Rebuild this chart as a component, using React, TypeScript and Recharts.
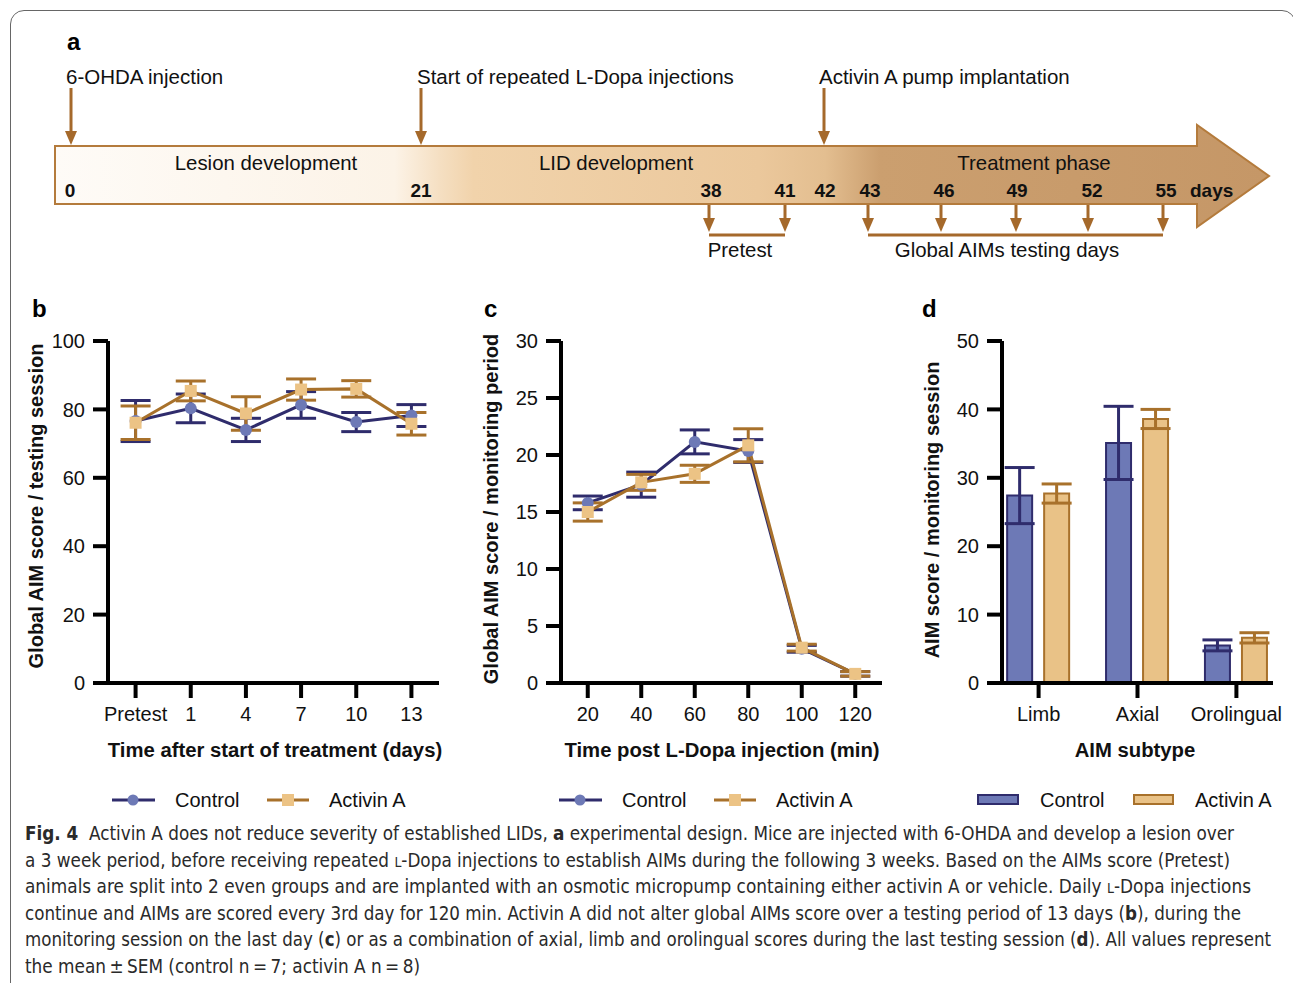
import React, { useLayoutEffect, useRef } from 'react';
import { LineChart, Line, BarChart, Bar, XAxis, YAxis, ErrorBar } from 'recharts';

// panel b: global AIM score per testing session (mean, SEM)
const sessionLabels = ['Pretest', '1', '4', '7', '10', '13'];
const sessionControl = [76.6, 80.3, 74.0, 81.3, 76.3, 78.2];
const sessionControlSem = [6.0, 4.2, 3.4, 3.9, 2.8, 3.2];
const sessionActivin = [76.1, 85.4, 78.8, 85.8, 86.0, 75.8];
const sessionActivinSem = [4.9, 2.9, 4.9, 3.1, 2.4, 3.3];

// panel c: global AIM score over the monitoring period
const minutes = [20, 40, 60, 80, 100, 120];
const minuteControl = [15.8, 17.4, 21.15, 20.35, 3.0, 0.8];
const minuteControlSem = [0.6, 1.1, 1.05, 1.0, 0.3, 0.2];
const minuteActivin = [15.0, 17.6, 18.35, 20.85, 3.1, 0.8];
const minuteActivinSem = [0.8, 0.7, 0.75, 1.45, 0.3, 0.2];

// panel d: AIM subtypes
const subtypes = ['Limb', 'Axial', 'Orolingual'];
const subtypeControl = [27.4, 35.1, 5.5];
const subtypeControlSem = [4.1, 5.35, 0.8];
const subtypeActivin = [27.7, 38.6, 6.6];
const subtypeActivinSem = [1.4, 1.4, 0.75];

// panel a: timeline schematic
const timelineDays = ['0', '21', '38', '41', '42', '43', '46', '49', '52', '55'];
const timelineDayX = [70, 421, 711, 785, 825, 870, 944, 1017, 1092, 1166];
const eventLabels = ['6-OHDA injection', 'Start of repeated L-Dopa injections', 'Activin A pump implantation'];
const eventX = [71, 421, 824];
const eventTextX = [66, 417, 819];
const phaseLabels = ['Lesion development', 'LID development', 'Treatment phase'];
const phaseX = [266, 616, 1034];
const pretestArrows = [709, 785];
const testingArrows = [868, 941, 1016, 1088, 1163];

const FONT = "'Liberation Sans', Arial, Helvetica, sans-serif";
const CAPTION_FONT = "'Liberation Sans Narrow', 'DejaVu Sans Condensed', 'Liberation Sans', sans-serif";
const NAVY = '#2f2c6c';
const BLUE = '#6d79b6';
const BROWN = '#a8712b';
const SAND = '#ecc385';
const BAR_SAND = '#e9c287';
const ARROW = '#a5692b';

const sessionRows = sessionLabels.map((label, i) => ({
  x: i,
  label,
  control: sessionControl[i],
  controlSem: sessionControlSem[i],
  activin: sessionActivin[i],
  activinSem: sessionActivinSem[i],
}));

const minuteRows = minutes.map((m, i) => ({
  x: m,
  control: minuteControl[i],
  controlSem: minuteControlSem[i],
  activin: minuteActivin[i],
  activinSem: minuteActivinSem[i],
}));

const subtypeRows = subtypes.map((name, i) => ({
  x: i + 1,
  name,
  control: subtypeControl[i],
  controlSem: subtypeControlSem[i],
  activin: subtypeActivin[i],
  activinSem: subtypeActivinSem[i],
}));

const axisProps = {
  axisLine: { stroke: '#000', strokeWidth: 4 },
  tickLine: { stroke: '#000', strokeWidth: 4 },
  tickSize: 15,
  tick: { fill: '#111', fontSize: 20, fontFamily: FONT },
};

const circleDot = (p: any) =>
  p.cx == null ? null : <circle key={`c${p.index}`} cx={p.cx} cy={p.cy} r={6} fill={BLUE} />;
const squareDot = (p: any) =>
  p.cx == null ? null : <rect key={`s${p.index}`} x={p.cx - 6} y={p.cy - 6} width={12} height={12} fill={SAND} />;

const LineSeries = ({ rows, xDomain, xTicks, yMax, yTicks, fmt, width, yWidth, right }: any) => (
  <LineChart width={width} height={420} data={rows} margin={{ top: 21, right, left: 0, bottom: 0 }}>
    <XAxis
      dataKey="x"
      type="number"
      domain={xDomain}
      ticks={xTicks}
      interval={0}
      tickFormatter={fmt}
      height={57}
      tickMargin={9}
      {...axisProps}
    />
    <YAxis type="number" domain={[0, yMax]} ticks={yTicks} interval={0} width={yWidth} tickMargin={8} {...axisProps} />
    <Line
      type="linear"
      dataKey="control"
      stroke={NAVY}
      strokeWidth={3}
      dot={circleDot}
      activeDot={false}
      isAnimationActive={false}
    >
      <ErrorBar dataKey="controlSem" direction="y" width={15} strokeWidth={3} stroke={NAVY} isAnimationActive={false} />
    </Line>
    <Line
      type="linear"
      dataKey="activin"
      stroke={BROWN}
      strokeWidth={3}
      dot={squareDot}
      activeDot={false}
      isAnimationActive={false}
    >
      <ErrorBar dataKey="activinSem" direction="y" width={15} strokeWidth={3} stroke={BROWN} isAnimationActive={false} />
    </Line>
  </LineChart>
);

const Timeline = () => (
  <g fontFamily={FONT}>
    <defs>
      <linearGradient id="tl" gradientUnits="userSpaceOnUse" x1={55} y1={0} x2={1268} y2={0}>
        <stop offset={0} stopColor="#fefbf7" />
        <stop offset={0.28} stopColor="#fcf3e7" />
        <stop offset={0.317} stopColor="#f5dfc2" />
        <stop offset={0.345} stopColor="#f1d3ab" />
        <stop offset={0.58} stopColor="#ebc89c" />
        <stop offset={0.635} stopColor="#e3be90" />
        <stop offset={0.68} stopColor="#cb9f6f" />
        <stop offset={1} stopColor="#c59767" />
      </linearGradient>
    </defs>
    <text x={67} y={50} fontSize={24} fontWeight="bold" fill="#000">a</text>
    <polygon
      points="55,146 1197,146 1197,125 1269,176 1197,227 1197,204 55,204"
      fill="url(#tl)"
      stroke="#b47b3c"
      strokeWidth={2}
    />
    {eventLabels.map((t, i) => (
      <g key={t}>
        <text x={eventTextX[i]} y={84} fontSize={20.5} fill="#111">{t}</text>
        <line x1={eventX[i]} y1={88} x2={eventX[i]} y2={133} stroke={ARROW} strokeWidth={3} />
        <polygon points={`${eventX[i] - 6},131 ${eventX[i] + 6},131 ${eventX[i]},145`} fill={ARROW} />
      </g>
    ))}
    {phaseLabels.map((t, i) => (
      <text key={t} x={phaseX[i]} y={170} fontSize={20.4} textAnchor="middle" fill="#111">{t}</text>
    ))}
    {timelineDays.map((d, i) => (
      <text key={d} x={timelineDayX[i]} y={197} fontSize={19} fontWeight="bold" textAnchor="middle" fill="#111">{d}</text>
    ))}
    <text x={1190} y={197} fontSize={19} fontWeight="bold" fill="#111">days</text>
    {[pretestArrows, testingArrows].map((arr, k) => (
      <g key={k}>
        {arr.map((x) => (
          <g key={x}>
            <line x1={x} y1={205} x2={x} y2={220} stroke={ARROW} strokeWidth={3} />
            <polygon points={`${x - 6},218 ${x + 6},218 ${x},232`} fill={ARROW} />
          </g>
        ))}
        <line x1={arr[0]} y1={235} x2={arr[arr.length - 1]} y2={235} stroke={ARROW} strokeWidth={3} />
      </g>
    ))}
    <text x={740} y={257} fontSize={20.4} textAnchor="middle" fill="#111">Pretest</text>
    <text x={1007} y={257} fontSize={20.4} textAnchor="middle" fill="#111">Global AIMs testing days</text>
  </g>
);

const LineLegend = ({ x }: { x: number }) => (
  <g>
    <line x1={x} y1={800} x2={x + 43} y2={800} stroke={NAVY} strokeWidth={3} />
    <circle cx={x + 21} cy={800} r={5.5} fill={BLUE} />
    <text x={x + 63} y={807} fontSize={20} fill="#111">Control</text>
    <line x1={x + 155} y1={800} x2={x + 197} y2={800} stroke={BROWN} strokeWidth={3} />
    <rect x={x + 170} y={794} width={12} height={12} fill={SAND} />
    <text x={x + 217} y={807} fontSize={20} fill="#111">Activin A</text>
  </g>
);

type Piece = [string, string];
const captionLines: Piece[][] = [
  [['b', 'Fig. 4'], ['n', '  Activin A does not reduce severity of established LIDs, '], ['b', 'a'], ['n', ' experimental design. Mice are injected with 6-OHDA and develop a lesion over']],
  [['n', 'a 3 week period, before receiving repeated '], ['s', 'L'], ['n', '-Dopa injections to establish AIMs during the following 3 weeks. Based on the AIMs score (Pretest)']],
  [['n', 'animals are split into 2 even groups and are implanted with an osmotic micropump containing either activin A or vehicle. Daily '], ['s', 'L'], ['n', '-Dopa injections']],
  [['n', 'continue and AIMs are scored every 3rd day for 120 min. Activin A did not alter global AIMs score over a testing period of 13 days ('], ['b', 'b'], ['n', '), during the']],
  [['n', 'monitoring session on the last day ('], ['b', 'c'], ['n', ') or as a combination of axial, limb and orolingual scores during the last testing session ('], ['b', 'd'], ['n', '). All values represent']],
  [['n', 'the mean\u2009\u00b1\u2009SEM (control n\u2009=\u20097; activin A n\u2009=\u20098)']],
];
const captionWidths = [1209, 1205, 1226, 1216, 1246, 395];
const captionBaselines = [840, 867, 893, 920, 946, 973];

// one caption line, squeezed horizontally to the width it has in the figure
const CaptionLine = ({ pieces, width, baseline }: { pieces: Piece[]; width: number; baseline: number }) => {
  const ref = useRef<HTMLDivElement>(null);
  useLayoutEffect(() => {
    const el = ref.current;
    if (!el) return;
    el.style.transform = 'none';
    const w = el.getBoundingClientRect().width;
    if (w > 0) el.style.transform = `scaleX(${width / w})`;
  }, [width]);
  return (
    <div
      ref={ref}
      style={{
        position: 'absolute',
        left: 25,
        top: baseline - 18,
        whiteSpace: 'pre',
        fontSize: 19,
        lineHeight: '22px',
        fontFamily: CAPTION_FONT,
        color: '#2a2a2a',
        transformOrigin: '0 0',
      }}
    >
      {pieces.map(([kind, t], j) => (
        <span
          key={j}
          style={{ fontWeight: kind === 'b' ? 'bold' : 'normal', fontSize: kind === 's' ? 14 : undefined }}
        >
          {t}
        </span>
      ))}
    </div>
  );
};

export default function App() {
  return (
    <div
      style={{
        position: 'relative',
        width: 1293,
        height: 983,
        overflow: 'hidden',
        background: '#fff',
        fontFamily: FONT,
      }}
    >
      <style>{'body{margin:0;overflow:hidden;}'}</style>
      <div
        style={{
          position: 'absolute',
          left: 10,
          top: 10,
          width: 1286,
          height: 1020,
          border: '1.5px solid #666',
          borderRadius: 14,
          boxSizing: 'border-box',
        }}
      />

      <div style={{ position: 'absolute', left: 0, top: 320 }}>
        <LineSeries
          rows={sessionRows}
          xDomain={[-0.5, 5.5]}
          xTicks={[0, 1, 2, 3, 4, 5]}
          fmt={(v: number) => sessionLabels[v]}
          yMax={100}
          yTicks={[0, 20, 40, 60, 80, 100]}
          width={460}
          yWidth={108}
          right={21}
        />
      </div>

      <div style={{ position: 'absolute', left: 460, top: 320 }}>
        <LineSeries
          rows={minuteRows}
          xDomain={[10, 130]}
          xTicks={minutes}
          fmt={(v: number) => String(v)}
          yMax={30}
          yTicks={[0, 5, 10, 15, 20, 25, 30]}
          width={440}
          yWidth={101}
          right={18}
        />
      </div>

      <div style={{ position: 'absolute', left: 900, top: 320 }}>
        <BarChart
          width={393}
          height={420}
          data={subtypeRows}
          margin={{ top: 21, right: 20, left: 0, bottom: 0 }}
          barSize={25}
          barGap={12}
        >
          <XAxis
            dataKey="x"
            type="number"
            domain={[0.63, 3.37]}
            ticks={[1, 2, 3]}
            interval={0}
            tickFormatter={(v: number) => subtypes[v - 1]}
            height={57}
            tickMargin={9}
            {...axisProps}
          />
          <YAxis type="number" domain={[0, 50]} ticks={[0, 10, 20, 30, 40, 50]} interval={0} width={102} tickMargin={8} {...axisProps} />
          <Bar dataKey="control" fill={BLUE} stroke={NAVY} strokeWidth={2} isAnimationActive={false}>
            <ErrorBar dataKey="controlSem" direction="y" width={15} strokeWidth={3} stroke={NAVY} isAnimationActive={false} />
          </Bar>
          <Bar dataKey="activin" fill={BAR_SAND} stroke={BROWN} strokeWidth={2} isAnimationActive={false}>
            <ErrorBar dataKey="activinSem" direction="y" width={15} strokeWidth={3} stroke={BROWN} isAnimationActive={false} />
          </Bar>
        </BarChart>
      </div>

      <svg
        width={1293}
        height={820}
        style={{ position: 'absolute', left: 0, top: 0, pointerEvents: 'none' }}
        fontFamily={FONT}
      >
        <Timeline />

        <text x={32} y={317} fontSize={24} fontWeight="bold">b</text>
        <text x={484} y={317} fontSize={24} fontWeight="bold">c</text>
        <text x={922} y={317} fontSize={24} fontWeight="bold">d</text>

        <text transform="translate(43,506) rotate(-90)" textAnchor="middle" fontSize={20} fontWeight="bold" fill="#111">
          Global AIM score / testing session
        </text>
        <text transform="translate(498,509) rotate(-90)" textAnchor="middle" fontSize={20} fontWeight="bold" fill="#111">
          Global AIM score / monitoring period
        </text>
        <text transform="translate(939,510) rotate(-90)" textAnchor="middle" fontSize={20} fontWeight="bold" fill="#111">
          AIM score / monitoring session
        </text>

        <text x={275} y={757} textAnchor="middle" fontSize={20.3} fontWeight="bold" fill="#111">
          Time after start of treatment (days)
        </text>
        <text x={722} y={757} textAnchor="middle" fontSize={20.3} fontWeight="bold" fill="#111">
          Time post L-Dopa injection (min)
        </text>
        <text x={1135} y={757} textAnchor="middle" fontSize={20.3} fontWeight="bold" fill="#111">
          AIM subtype
        </text>

        <LineLegend x={112} />
        <LineLegend x={559} />
        <g>
          <rect x={978} y={795} width={40} height={9} fill={BLUE} stroke={NAVY} strokeWidth={2} />
          <text x={1040} y={807} fontSize={20} fill="#111">Control</text>
          <rect x={1134} y={795} width={39} height={9} fill={BAR_SAND} stroke={BROWN} strokeWidth={2} />
          <text x={1195} y={807} fontSize={20} fill="#111">Activin A</text>
        </g>
      </svg>

      {captionLines.map((pieces, i) => (
        <CaptionLine key={i} pieces={pieces} width={captionWidths[i]} baseline={captionBaselines[i]} />
      ))}
    </div>
  );
}
